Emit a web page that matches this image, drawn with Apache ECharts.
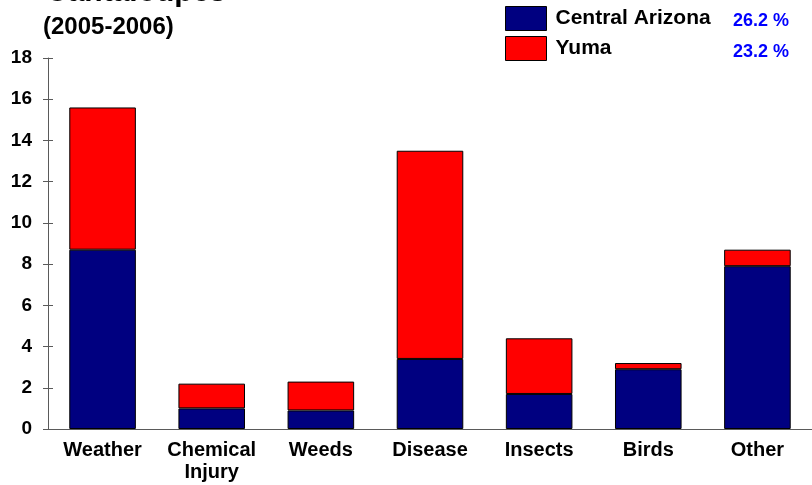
<!DOCTYPE html>
<html>
<head>
<meta charset="utf-8">
<script src="https://cdn.jsdelivr.net/npm/echarts@6/dist/echarts.min.js"></script>
<style>
  html, body { margin: 0; padding: 0; background: #fff; }
  #chart { width: 812px; height: 485px; }
</style>
</head>
<body>
<div id="chart"></div>
<script>
// Crop loss causes for cantaloupes, 2005-2006 (percent)
const categories = ['Weather', 'Chemical\nInjury', 'Weeds', 'Disease', 'Insects', 'Birds', 'Other'];
const centralArizona = [8.7, 1.0, 0.9, 3.4, 1.7, 2.9, 7.9];
const yuma = [6.9, 1.2, 1.4, 10.1, 2.7, 0.3, 0.8];
const seriesNames = ['Central Arizona', 'Yuma'];
const totalPercents = ['26.2 %', '23.2 %'];
const yTicks = { min: 0, max: 18, interval: 2 };

const font = '"Liberation Sans", Arial, sans-serif';
const axisGrey = '#5a5a5a';

const chart = echarts.init(document.getElementById('chart'));

chart.setOption({
  animation: false,
  textStyle: { fontFamily: font },
  grid: { left: 48, right: -1, top: 58, bottom: 56, containLabel: false },
  legend: {
    orient: 'vertical',
    left: 505,
    top: 6,
    padding: 0,
    itemWidth: 41,
    itemHeight: 24,
    itemGap: 5,
    icon: 'rect',
    itemStyle: { borderColor: '#000', borderWidth: 1 },
    textStyle: { fontFamily: font, fontWeight: 'bold', fontSize: 21, color: '#000', padding: [0, 0, 0, 4] },
    data: seriesNames
  },
  xAxis: {
    type: 'category',
    data: categories,
    axisLine: { lineStyle: { color: axisGrey, width: 1 } },
    axisTick: { alignWithLabel: true, length: 5, lineStyle: { color: axisGrey } },
    axisLabel: {
      interval: 0,
      margin: 10,
      fontFamily: font,
      fontWeight: 'bold',
      fontSize: 20,
      lineHeight: 22,
      color: '#000'
    }
  },
  yAxis: [
    {
      // ticks cross the axis line: shifted 5px inward and 10px long
      type: 'value',
      offset: -5,
      min: yTicks.min, max: yTicks.max, interval: yTicks.interval,
      splitLine: { show: false },
      axisLine: { show: false },
      axisTick: { show: true, length: 10, lineStyle: { color: axisGrey } },
      axisLabel: { margin: 21, fontFamily: font, fontWeight: 'bold', fontSize: 19, color: '#000' }
    },
    {
      // the axis line itself
      type: 'value',
      position: 'left',
      offset: 0,
      min: yTicks.min, max: yTicks.max, interval: yTicks.interval,
      splitLine: { show: false },
      axisLine: { show: true, lineStyle: { color: axisGrey, width: 1 } },
      axisTick: { show: false },
      axisLabel: { show: false }
    }
  ],
  series: [
    {
      name: seriesNames[0],
      type: 'bar',
      stack: 'loss',
      barWidth: '61%',
      data: centralArizona,
      itemStyle: { color: '#000080', borderColor: '#000', borderWidth: 1 }
    },
    {
      name: seriesNames[1],
      type: 'bar',
      stack: 'loss',
      barWidth: '61%',
      data: yuma,
      itemStyle: { color: '#ff0000', borderColor: '#000', borderWidth: 1 }
    }
  ],
  graphic: [
    {
      type: 'text', left: 46, top: -22,
      style: { text: 'Cantaloupes', font: 'bold 30px ' + font, fill: '#000' }
    },
    {
      type: 'text', left: 43, top: 15,
      style: { text: '(2005-2006)', font: 'bold 24px ' + font, fill: '#000' }
    },
    {
      type: 'text', left: 733, top: 12,
      style: { text: totalPercents[0], font: 'bold 18px ' + font, fill: '#0000ff' }
    },
    {
      type: 'text', left: 733, top: 43,
      style: { text: totalPercents[1], font: 'bold 18px ' + font, fill: '#0000ff' }
    }
  ]
});
</script>
</body>
</html>
